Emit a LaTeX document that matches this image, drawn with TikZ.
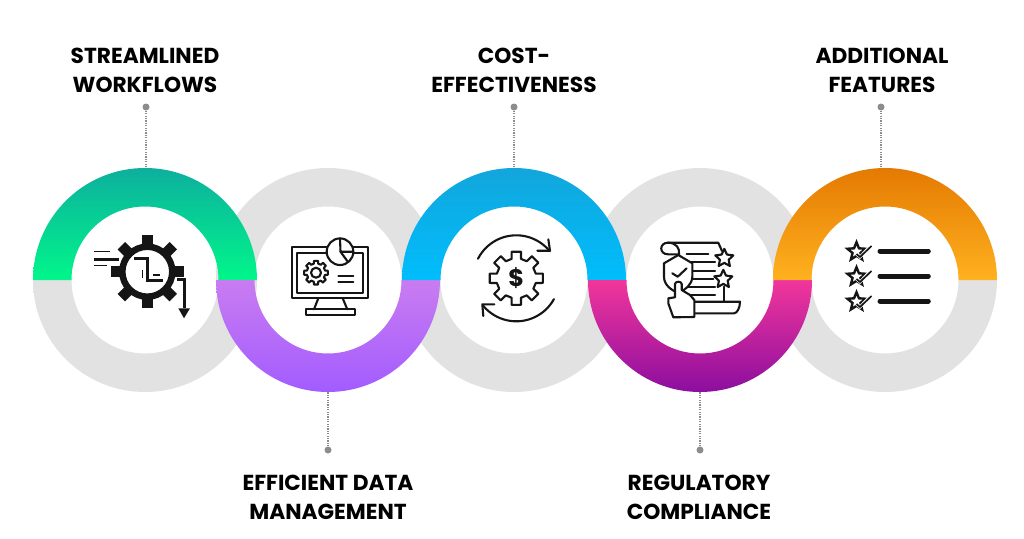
\documentclass[tikz,border=0pt]{standalone}
\usepackage{fontspec}
\setmainfont{Poppins}[BoldFont={Poppins Bold}]
\definecolor{ringgrey}{HTML}{E2E2E2}
\definecolor{dotgrey}{HTML}{8C8C8C}
\definecolor{icon}{HTML}{151515}
\definecolor{gA}{HTML}{0DAF9E}\definecolor{gB}{HTML}{00F68A}
\definecolor{pA}{HTML}{C97CF0}\definecolor{pB}{HTML}{A25CFF}
\definecolor{bA}{HTML}{12A6DC}\definecolor{bB}{HTML}{00BDFC}
\definecolor{mA}{HTML}{F2369B}\definecolor{mB}{HTML}{8C0E9F}
\definecolor{oA}{HTML}{E47A02}\definecolor{oB}{HTML}{FFB11F}
\newcommand{\topring}[3]{\shade[top color=#2,bottom color=#3]
  (#1-112,280) arc[start angle=180,end angle=360,radius=112] -- (#1+73.5,280)
  arc[start angle=360,end angle=180,radius=73.5] -- cycle;}
\newcommand{\botring}[3]{\shade[top color=#2,bottom color=#3]
  (#1-112,280) arc[start angle=180,end angle=0,radius=112] -- (#1+73.5,280)
  arc[start angle=0,end angle=180,radius=73.5] -- cycle;}
\newcommand{\gearline}[6]{% x y R r n options
  \draw[#6] ({#1+#3*cos(-360/#5*0.22)},{#2+#3*sin(-360/#5*0.22)})
  \foreach \i in {1,...,#5}{
    -- ({#1+#3*cos(360/#5*(\i-1)+360/#5*0.22)},{#2+#3*sin(360/#5*(\i-1)+360/#5*0.22)})
    -- ({#1+#4*cos(360/#5*(\i-1)+360/#5*0.30)},{#2+#4*sin(360/#5*(\i-1)+360/#5*0.30)})
    -- ({#1+#4*cos(360/#5*\i-360/#5*0.30)},{#2+#4*sin(360/#5*\i-360/#5*0.30)})
    -- ({#1+#3*cos(360/#5*\i-360/#5*0.22)},{#2+#3*sin(360/#5*\i-360/#5*0.22)})
  } -- cycle;}
\newcommand{\starline}[5]{% x y R r options
  \draw[#5] ({#1+#3*cos(-90)},{#2+#3*sin(-90)})
  -- ({#1+#4*cos(-54)},{#2+#4*sin(-54)})
  -- ({#1+#3*cos(-18)},{#2+#3*sin(-18)})
  -- ({#1+#4*cos(18)},{#2+#4*sin(18)})
  -- ({#1+#3*cos(54)},{#2+#3*sin(54)})
  -- ({#1+#4*cos(90)},{#2+#4*sin(90)})
  -- ({#1+#3*cos(126)},{#2+#3*sin(126)})
  -- ({#1+#4*cos(162)},{#2+#4*sin(162)})
  -- ({#1+#3*cos(198)},{#2+#3*sin(198)})
  -- ({#1+#4*cos(234)},{#2+#4*sin(234)})
  -- cycle;}
\tikzset{
  lbl/.style={font=\fontsize{21.7}{29.5}\selectfont\bfseries,align=center,text=black,inner sep=0pt},
  dotnode/.style={circle,fill=dotgrey,minimum size=7pt,inner sep=0pt},
  leader/.style={dotgrey,line width=1.2pt,dash pattern=on 1.2pt off 1.2pt},
  ico/.style={icon,line width=2.1pt,line join=round,line cap=round},
  icofine/.style={icon,line width=1.3pt,line join=round,line cap=round}
}
\begin{document}
\begin{tikzpicture}[x=1pt,y=-1pt]
\useasboundingbox (0,0) rectangle (1024,538);
\fill[white] (0,0) rectangle (1024,538);
% grey halves
\botring{145}{ringgrey}{ringgrey}
\botring{514}{ringgrey}{ringgrey}
\botring{885}{ringgrey}{ringgrey}
\topring{328}{ringgrey}{ringgrey}
\topring{700}{ringgrey}{ringgrey}
% coloured halves
\topring{145}{gA}{gB}
\botring{328}{pA}{pB}
\topring{514}{bA}{bB}
\botring{700}{mA}{mB}
\topring{885}{oA}{oB}
% labels
\node[lbl] (t1) at (145,70.5) {STREAMLINED\\WORKFLOWS};
\node[lbl] (t2) at (328,497.5) {EFFICIENT DATA\\MANAGEMENT};
\node[lbl] (t3) at (514,70.5) {COST-\\EFFECTIVENESS};
\node[lbl] (t4) at (699,497.5) {REGULATORY\\COMPLIANCE};
\node[lbl] (t5) at (882,70.5) {ADDITIONAL\\FEATURES};
% leaders
\node[dotnode] (d1) at (146,107) {};
\node[dotnode] (d2) at (328,450) {};
\node[dotnode] (d3) at (514,107) {};
\node[dotnode] (d4) at (700,450) {};
\node[dotnode] (d5) at (881,107) {};
\coordinate (e1) at (146,168);
\coordinate (e2) at (328,392);
\coordinate (e3) at (514,168);
\coordinate (e4) at (700,392);
\coordinate (e5) at (881,168);
\foreach \k in {1,...,5}{\draw[leader] (d\k) -- (e\k);}
% icon 1: clock gear
\foreach \a in {0,45,...,315}{
  \draw[icon,line width=10.5pt] ({147.3+24*cos(\a)},{271.7+24*sin(\a)}) -- ({147.3+36.7*cos(\a)},{271.7+36.7*sin(\a)});}
\draw[icon,line width=6.5pt,fill=white] (147.3,271.7) circle[radius=25];
\draw[icon,line width=3pt,line join=miter] (134,258.3) -- (147.3,258.3) -- (147.3,280) -- (163.3,280);
\draw[icon,line width=1.2pt] (142.7,270) -- (142.7,278.3);
\draw[icon,line width=1.5pt] (153.3,275) -- (160,275);
\draw[icon,line width=1.2pt] (94,251.7) -- (110,251.7);
\draw[icon,line width=3pt] (94,259.3) -- (119.3,259.3);
\draw[icon,line width=1.2pt] (94,265.7) -- (106.7,265.7);
\draw[icon,line width=3pt,line join=miter] (177.3,279.3) -- (184,279.3) -- (184,308.3);
\fill[icon] (178.3,308.3) -- (190,308.3) -- (184,318.3) -- cycle;
% icon 2: monitor
\draw[ico] (291.7,247.3) rectangle (368.3,298.3);
\draw[ico] (296.7,252.7) rectangle (363.3,292.7);
\draw[ico] (318.3,298.3) -- (314,309.3);
\draw[ico] (342.7,298.3) -- (347.3,309.3);
\draw[ico] (306,309.3) rectangle (355,315.3);
\draw[ico,fill=white] (340,251.7) circle[radius=13.3];
\draw[ico] (340,238.4) -- (340.5,251.7) -- (353,251.7);
\draw[ico] (340.5,251.7) -- (348,262);
\gearline{316}{272.7}{12}{9.3}{8}{ico}
\draw[ico] (316,272.7) circle[radius=5];
\draw[ico] (338.3,275.7) -- (353.3,275.7);
\draw[ico] (338.3,281.7) -- (353.3,281.7);
% icon 3: cost cycle
\draw[ico] plot[domain=207:321,samples=40] ({516.3+43*cos(\x)},{278.3+43*sin(\x)});
\draw[ico] plot[domain=29:141,samples=40] ({516.3+43*cos(\x)},{278.3+43*sin(\x)});
\draw[ico] (548.3,239.3) -- (550,250.7) -- (537.3,250.7);
\draw[ico] (483.3,316) -- (482.3,304.3) -- (494.3,304.3);
\gearline{516.3}{278.3}{27}{20}{8}{ico}
\node[font=\fontsize{24}{24}\selectfont\bfseries,text=icon,inner sep=0pt] (dollar) at (516.3,278.3) {\$};
% icon 4: scroll
\draw[ico] (668,242.7) -- (718.3,242.7) -- (722,251);
\draw[ico] (668,242.7) .. controls (659,242.7) and (659,254.3) .. (668,254.3) -- (679,254.3);
\draw[ico] (668,242.7) .. controls (676,242.7) and (680,248) .. (679,254.3);
\draw[ico] (686.7,254.3) -- (708.3,254.3);
\draw[ico] (691,262.3) -- (715,262.3);
\draw[ico] (692.3,270.7) -- (715,270.7);
\draw[ico] (692.3,279) -- (713.3,279);
\draw[ico] (686.7,287.3) -- (715,287.3);
\draw[ico] (683.3,295) -- (715,295);
\draw[ico] (724.3,286.7) -- (724.3,301.7);
\draw[ico] (693.3,301.7) -- (740,301.7) .. controls (740,308) and (737,313.3) .. (734,313.3) -- (693.3,313.3);
\draw[ico,fill=white] (664,263.3) -- (678.3,255) -- (692.3,263.3) -- (692.3,276.7) .. controls (692,285) and (685,290) .. (678.3,293) .. controls (671,290) and (664,285) .. (664,276.7) -- cycle;
\draw[ico] (672.3,273.3) -- (677.7,276.7) -- (686.7,268.3);
\starline{724.3}{258.3}{9.5}{4.6}{ico,fill=white}
\starline{723.3}{279.3}{9.5}{4.6}{ico,fill=white}
\draw[ico,fill=white] (675,284) -- (675,297.3) -- (668.3,298.3) -- (668.3,303.3) -- (673.3,317.3) -- (694.3,317) -- (694.3,300) -- (690,295) -- (681.7,290) -- (681.7,284) .. controls (681.7,281) and (675,281) .. (675,284) -- cycle;
% icon 5: list
\foreach \y in {251,276,301}{
  \draw[icon,line width=5pt,line cap=round] (880,\y) -- (928.3,\y);
  \starline{856.5}{\y+0.7}{9.5}{4.2}{icon,line width=2.4pt,line join=miter,fill=white}
  \draw[white,line width=3pt] (856.5,\y+3) -- (860,\y+6) -- (870,\y-4.5);
  \draw[icon,line width=1.7pt] (856.5,\y+3) -- (860,\y+6) -- (871.5,\y-5);
}
\end{tikzpicture}
\end{document}
